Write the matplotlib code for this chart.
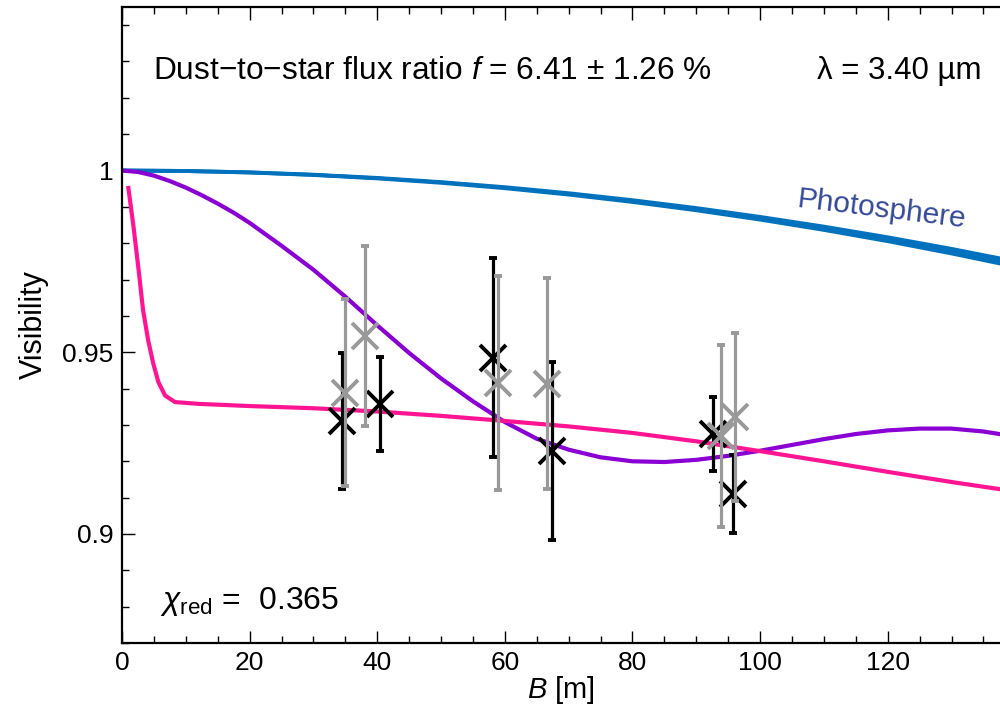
import matplotlib
matplotlib.use('Agg')
import matplotlib.pyplot as plt
from matplotlib.ticker import MultipleLocator, FuncFormatter

plt.rcParams['font.family'] = ['Liberation Sans', 'DejaVu Sans']
plt.rcParams['mathtext.fontset'] = 'custom'
plt.rcParams['mathtext.rm'] = 'Liberation Sans'
plt.rcParams['mathtext.it'] = 'Liberation Sans:italic'

# Photosphere (banda entre dois modelos)
phot_B = [0, 10, 20, 30, 40, 50, 60, 70, 80, 90, 100, 110, 120, 130, 140]
phot_hi = [1.0, 0.99987, 0.99949, 0.99885, 0.99796, 0.99681, 0.99541, 0.99375,
           0.99183, 0.98967, 0.98724, 0.98456, 0.98163, 0.97844, 0.97499]
phot_lo = [1.0, 0.99987, 0.99946, 0.99878, 0.99784, 0.99663, 0.99514, 0.99339,
           0.99136, 0.98907, 0.98650, 0.98367, 0.98057, 0.97719, 0.97355]

# Modelo roxo
purple_B = [0, 2.5, 5, 7.5, 10, 12.5, 15, 17.5, 20, 25, 30, 35, 40, 45, 50, 55,
            60, 65, 70, 75, 80, 85, 90, 95, 100, 105, 110, 115, 120, 125, 130,
            135, 140]
purple_V = [1.0, 0.9996, 0.9986, 0.9971, 0.9953, 0.9932, 0.9909, 0.9884, 0.9856,
            0.9793, 0.9727, 0.9653, 0.9574, 0.9498, 0.9428, 0.9365, 0.9308,
            0.9262, 0.9232, 0.9211, 0.9200, 0.9198, 0.9204, 0.9215, 0.9229,
            0.9245, 0.9261, 0.9275, 0.9285, 0.9290, 0.9290, 0.9282, 0.9268]

# Modelo rosa
pink_B = [1.0, 1.8, 2.6, 3.3, 4.1, 4.9, 5.7, 6.75, 8.3, 12, 20, 30, 40, 50, 60,
          70, 80, 90, 100, 110, 120, 130, 140]
pink_V = [0.9952, 0.9846, 0.9727, 0.9616, 0.9533, 0.9469, 0.9418, 0.9381, 0.9363,
          0.9358, 0.9352, 0.9346, 0.9337, 0.9325, 0.9311, 0.9296, 0.9278, 0.9255,
          0.9228, 0.9200, 0.9171, 0.9143, 0.9117]

# Medidas (pretas e cinzas)
black_B = [34.5, 40.4, 58.1, 67.4, 92.6, 95.8]
black_V = [0.9312, 0.9358, 0.9485, 0.9229, 0.9275, 0.9110]
black_err = [0.0187, 0.0130, 0.0273, 0.0245, 0.0102, 0.0106]

gray_B = [35.0, 38.1, 59.0, 66.6, 93.9, 96.0]
gray_V = [0.9389, 0.9544, 0.9415, 0.9413, 0.9270, 0.9321]
gray_err = [0.0258, 0.0248, 0.0294, 0.0290, 0.0250, 0.0231]

fig = plt.figure(figsize=(10, 7.11), dpi=100)
ax = fig.add_axes([0.122, 0.0956, 0.878, 0.8946])

blue = '#0072BD'
ax.fill_between(phot_B, phot_lo, phot_hi, color=blue, lw=0, zorder=2)
ax.plot(phot_B, phot_hi, color=blue, lw=2.8, zorder=2)
ax.plot(phot_B, phot_lo, color=blue, lw=2.8, zorder=2)
ax.plot(purple_B, purple_V, color='#8A00D4', lw=3.0, zorder=2)
ax.plot(pink_B, pink_V, color='#FF1493', lw=3.0, zorder=2)

ax.errorbar(black_B, black_V, yerr=black_err, fmt='x', color='black', ms=19,
            mew=2.8, elinewidth=2.3, capsize=3, capthick=2.6, zorder=3)
ax.errorbar(gray_B, gray_V, yerr=gray_err, fmt='x', color='#999999', ms=19,
            mew=2.8, elinewidth=2.3, capsize=3, capthick=2.6, zorder=4)

ax.set_xlim(0, 137.6)
ax.set_ylim(0.87, 1.045)

ax.xaxis.set_major_locator(MultipleLocator(20))
ax.xaxis.set_minor_locator(MultipleLocator(5))
ax.yaxis.set_major_locator(MultipleLocator(0.05))
ax.yaxis.set_minor_locator(MultipleLocator(0.01))
ax.yaxis.set_major_formatter(FuncFormatter(lambda v, p: f'{v:g}'))
ax.tick_params(which='both', direction='in', top=True, right=False,
               labelsize=19, width=1, pad=6)
ax.tick_params(which='major', length=9)
ax.tick_params(which='minor', length=5)
ax.spines['right'].set_visible(False)
for s in ['left', 'top', 'bottom']:
  ax.spines[s].set_linewidth(1.6)

ax.set_xlabel(r'$B$ [m]', fontsize=21, labelpad=-1)
ax.set_ylabel('Visibility', fontsize=22, labelpad=10)

ax.text(4.9, 1.0273, 'Dust\u2212to\u2212star flux ratio $f$ = 6.41 \u00b1 1.26 %',
        fontsize=22.8, va='center', ha='left')
ax.text(108.9, 1.0273, '\u03bb = 3.40 \u00b5m', fontsize=22.5, va='center', ha='left')
ax.text(6.0, 0.8815, r'$\chi_{\rm red}$ =  0.365', fontsize=23, va='center', ha='left')
ax.text(119.1, 0.9892, 'Photosphere', fontsize=21.5, color='#34499A',
        rotation=-7, va='center', ha='center', rotation_mode='anchor')

fig.savefig('out.png', dpi=100)
